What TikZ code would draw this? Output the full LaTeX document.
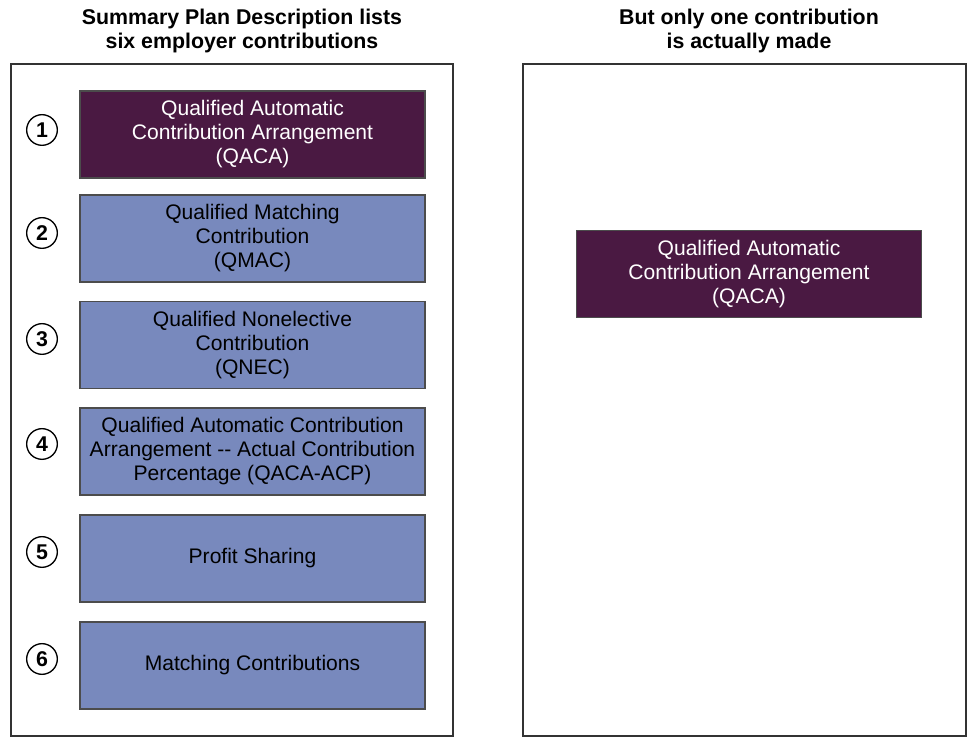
\documentclass[tikz,border=0pt]{standalone}
\usepackage{fontspec}
\setmainfont{Liberation Sans}
\usepackage{tikz}

\definecolor{qacapurple}{HTML}{4A1942}
\definecolor{planblue}{HTML}{7889BD}

\begin{document}
\begin{tikzpicture}[x=0.75pt, y=-0.75pt, line width=0.9pt,
    frame/.style={draw=black!80, line width=1.1pt},
    qaca/.style={draw=black!70, line width=0.8pt, fill=qacapurple, text=white,
      minimum width=258.75pt, minimum height=65.25pt, align=center,
      font=\fontsize{15.8}{18}\selectfont},
    planbox/.style={qaca, fill=planblue, text=black},
    num/.style={circle, draw=black, line width=1pt, inner sep=0pt,
      minimum size=23pt, font=\fontsize{16}{16}\selectfont\bfseries},
    heading/.style={align=center, font=\fontsize{16}{18}\selectfont\bfseries}]
    \useasboundingbox (0,0) rectangle (972,737);

    % draw headings
    \node[heading] (lefthead) at (242,31) {Summary Plan Description lists\\six employer contributions};
    \node[heading] (righthead) at (749,31) {But only one contribution\\is actually made};

    % draw outer frames
    \draw[frame] (11,64) rectangle (453,736);
    \draw[frame] (523,64) rectangle (966,736);

    % draw the six listed contributions
    \node[qaca] (c1) at (252.5,134.5) {Qualified Automatic\\Contribution Arrangement\\(QACA)};
    \node[planbox] (c2) at (252.5,238.5) {Qualified Matching\\Contribution\\(QMAC)};
    \node[planbox] (c3) at (252.5,345) {Qualified Nonelective\\Contribution\\(QNEC)};
    \node[planbox] (c4) at (252.5,451.5) {Qualified Automatic Contribution\\Arrangement -{}- Actual Contribution\\Percentage (QACA-ACP)};
    \node[planbox] (c5) at (252.5,558.5) {Profit Sharing};
    \node[planbox] (c6) at (252.5,665.5) {Matching Contributions};

    % draw numbers
    \foreach \i/\y in {1/130, 2/233, 3/339, 4/444, 5/552, 6/659}
      \node[num] (n\i) at (42,\y) {\i};

    % draw the one contribution made
    \node[qaca] (made) at (749,274) {Qualified Automatic\\Contribution Arrangement\\(QACA)};

\end{tikzpicture}
\end{document}
